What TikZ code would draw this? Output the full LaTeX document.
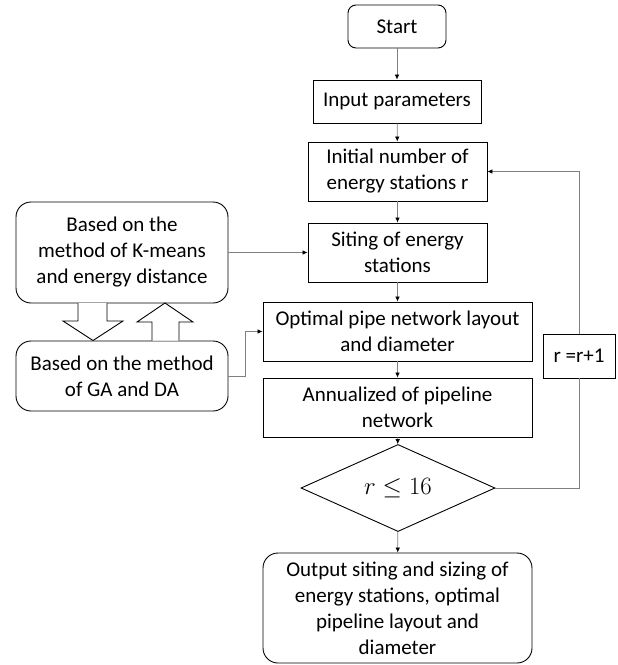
\documentclass[tikz,border=0pt]{standalone}
\usepackage{fontspec}
\setmainfont{Carlito}
\usepackage{amsmath}
\usetikzlibrary{
    arrows.meta,
    shapes.geometric
}

\begin{document}
\begin{tikzpicture}[
x=1pt,
y=-1pt,
font=\fontsize{21}{26}\selectfont,
box/.style={
draw,
line width=0.9pt,
inner sep=2pt,
align=center
},
roundbox/.style={
box,
rounded corners=15pt
},
link/.style={
draw=gray,
line width=0.7pt,
-{Latex[length=5pt,width=4.5pt,color=black]}
},
blockarrow/.style={
draw,
line width=0.9pt,
fill=white
}
]

\useasboundingbox (0,0) rectangle (618,665);

\node[roundbox, rounded corners=8pt, minimum width=98pt, minimum height=43pt] (start)
at (397,26.5) {Start};

\node[box, minimum width=168pt, minimum height=43pt] (input)
at (397,101.5) {Input parameters};

\node[box, minimum width=179pt, minimum height=59pt] (init)
at (397.5,171.5) {Initial number of\\energy stations r};

\node[box, minimum width=179pt, minimum height=59pt] (siting)
at (397.5,252.5) {Siting of energy\\stations};

\node[box, minimum width=269pt, minimum height=59pt] (layout)
at (397.5,331.5) {Optimal pipe network layout\\and diameter};

\node[box, minimum width=269pt, minimum height=59pt] (annual)
at (397.5,407.5) {Annualized of pipeline\\network};

\node[box, diamond, inner sep=0pt, minimum width=194pt, minimum height=60pt,
font=\fontsize{23}{28}\selectfont] (check)
at (398,488) {$r \leq 16$};

\node[roundbox, minimum width=269pt, minimum height=110pt] (output)
at (397.5,608) {Output siting and sizing of\\energy stations, optimal\\pipeline layout and\\diameter};

\node[box, minimum width=72pt, minimum height=44pt] (update)
at (579,356) {r =r+1};

\node[roundbox, minimum width=212pt, minimum height=101pt] (kmeans)
at (122,252.5) {Based on the\\method of K-means\\and energy distance};

\node[roundbox, minimum width=212pt, minimum height=70pt] (gada)
at (122,376) {Based on the method\\of GA and DA};

\draw[link] (start) -- (input);
\draw[link] (input) -- (init);
\draw[link] (init) -- (siting);
\draw[link] (siting) -- (layout);
\draw[link] (layout) -- (annual);
\draw[link] (annual) -- (check);
\draw[link] (check) -- (output);

\draw[draw=gray, line width=0.7pt] (check.east) -| (update.south);
\draw[link] (update.north) |- (init.east);

\draw[link] (kmeans.east) -- (siting.west |- kmeans.east);
\draw[link] (gada.east) -- ++(17,0) |- (layout.west);

\draw[blockarrow] (78,303) -- (78,321) -- (63,321) -- (93,340.5)
-- (123,321) -- (107,321) -- (107,303);
\draw[blockarrow] (152,340.5) -- (152,322) -- (137,322) -- (165,303)
-- (193,322) -- (179,322) -- (179,340.5);

\end{tikzpicture}
\end{document}
